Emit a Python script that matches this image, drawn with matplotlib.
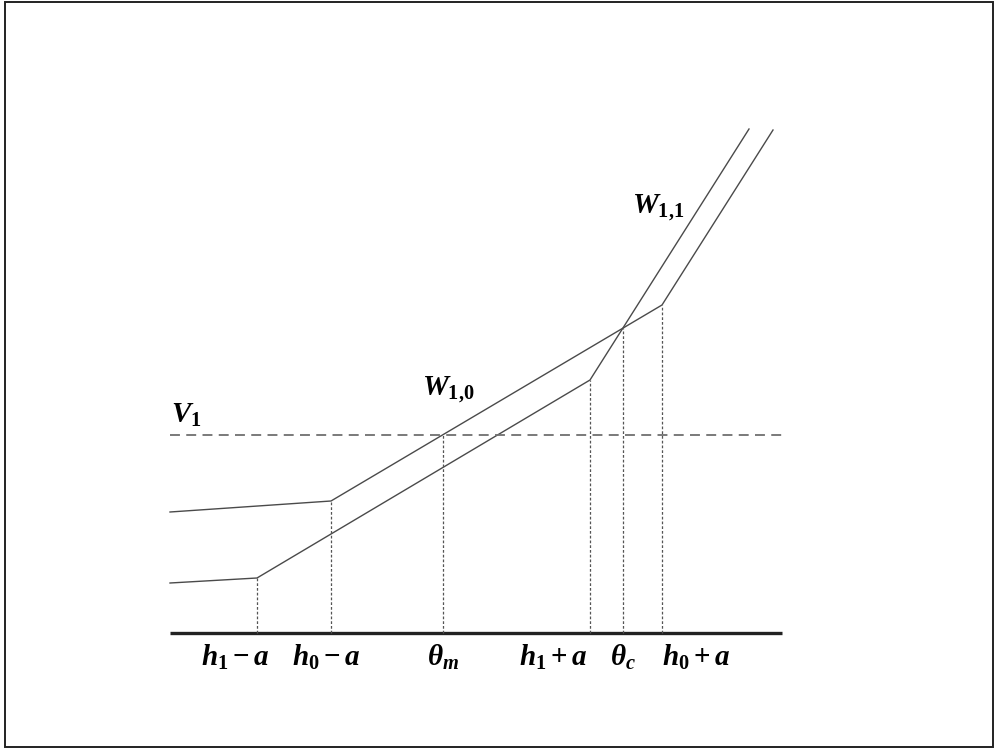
import numpy as np
import matplotlib
matplotlib.use("Agg")
import matplotlib.pyplot as plt
from matplotlib.patches import Rectangle

plt.rcParams["mathtext.fontset"] = "custom"
plt.rcParams["mathtext.rm"] = "Liberation Serif:bold"
plt.rcParams["mathtext.bf"] = "Liberation Serif:bold"
plt.rcParams["mathtext.it"] = "Liberation Serif:italic:bold"

# Piecewise-linear value curves (x = state, y = value)
w10_x = [0.00, 1.61, 4.92, 6.03]
w10_y = [1.21, 1.32, 3.28, 5.03]
w11_x = [0.00, 0.87, 4.20, 5.79]
w11_y = [0.50, 0.55, 2.53, 5.04]

# Threshold level V1
v1_level = 1.98

# Marked points on the horizontal axis and the curve each guide rises to
tick_x = [0.87, 1.61, 2.725, 4.20, 4.527, 4.92]
tick_labels = [r"$h_{\mathrm{1}}-a$", r"$h_{\mathrm{0}}-a$", r"$\theta_m$",
               r"$h_{\mathrm{1}}+a$", r"$\theta_c$", r"$h_{\mathrm{0}}+a$"]
tick_top = ["w11", "w10", "v1", "w11", "w10", "w10"]
label_dx = [-0.22, -0.05, 0.0, -0.37, 0.0, 0.34]

axis_end = 6.12

fig = plt.figure(figsize=(9.94, 7.49), dpi=100)
ax = fig.add_axes([0, 0, 1, 1])
ax.set_xlim(-1.70, 8.24)
ax.set_ylim(-1.16, 6.33)
ax.axis("off")

# Outer frame
fig.patches.append(Rectangle((5 / 994, 2 / 749), 988 / 994, 745 / 749,
                             transform=fig.transFigure, fill=False,
                             edgecolor="#222222", linewidth=1.4))

curve_kw = dict(color="#4a4a4a", linewidth=1.0, solid_joinstyle="miter")
ax.plot(w10_x, w10_y, **curve_kw)
ax.plot(w11_x, w11_y, **curve_kw)

# Horizontal axis and V1 level
ax.plot([0, axis_end], [0, 0], color="#222222", linewidth=2.4, solid_capstyle="butt")
ax.plot([0, axis_end], [v1_level, v1_level], color="#707070", linewidth=1.3,
        dashes=(5.5, 3.5))

# Vertical guides from the axis to each marked point
curves = {"w10": (w10_x, w10_y), "w11": (w11_x, w11_y)}
for x, top in zip(tick_x, tick_top):
    if top == "v1":
        y = v1_level
    else:
        y = np.interp(x, *curves[top])
    ax.plot([x, x], [0, y], color="#555555", linewidth=0.9, dashes=(2.2, 1.6))

for x, lab, dx in zip(tick_x, tick_labels, label_dx):
    ax.text(x + dx, -0.24, lab, fontsize=21, ha="center", va="center",
            color="black")

ax.text(0.01, 2.04, r"$V_{\mathrm{1}}$", fontsize=21, ha="left", va="bottom")
ax.text(2.52, 2.28, r"$W_{\mathrm{1{,}0}}$", fontsize=21, ha="left", va="bottom")
ax.text(4.62, 4.10, r"$W_{\mathrm{1{,}1}}$", fontsize=21, ha="left", va="bottom")

fig.savefig("out.png", dpi=100)
